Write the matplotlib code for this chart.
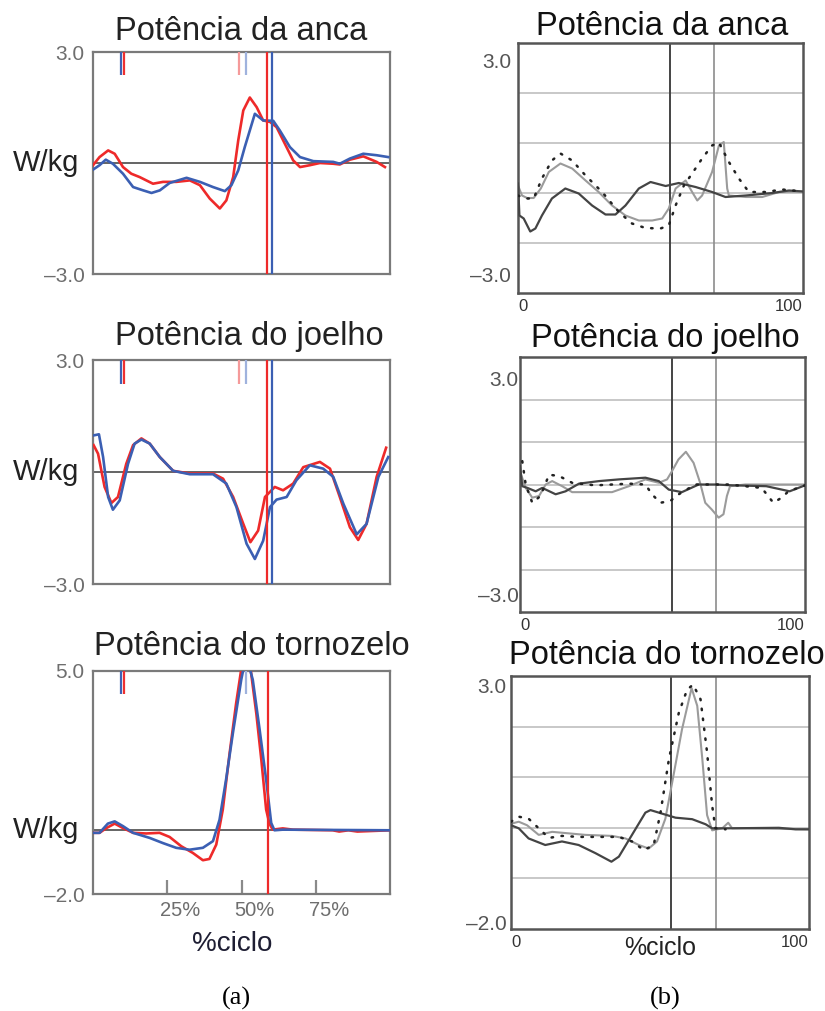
"""Gait power curves: (a) red/blue left-right averages, (b) grey reference traces."""

import matplotlib

matplotlib.use("Agg")

import matplotlib.pyplot as plt
from matplotlib.transforms import ScaledTranslation, blended_transform_factory

plt.rcParams["font.family"] = ["Liberation Sans", "DejaVu Sans"]

FIG_W, FIG_H = 825, 1011

# ---- panel (a): red / blue curves (x in % cycle, y in W/kg) ----
HIP_RED_X = [0, 2.2, 5.1, 7.3, 10.1, 12.9, 15.7, 20.2, 23.6, 28.1, 32.6, 36, 39.3, 42.7, 44.9, 47.2,
             48.9, 50.6, 52.8, 55.1, 57.3, 59.6, 61.8, 64.6, 67.4, 69.7, 73, 76.4, 80.9, 83.1, 86.5, 91, 95.5, 98.3]
HIP_RED_Y = [-0.06, 0.16, 0.34, 0.25, -0.11, -0.29, -0.38, -0.56, -0.51, -0.51, -0.47, -0.6, -0.96, -1.23,
             -1.01, -0.38, 0.61, 1.42, 1.77, 1.51, 1.15, 1.11, 0.97, 0.52, 0.07, -0.11, -0.06, 0.0, -0.02,
             -0.04, 0.09, 0.18, 0.03, -0.11]
HIP_BLUE_X = [0, 2.2, 4.3, 6.7, 10.1, 13.5, 16.9, 19.7, 22.5, 25.8, 31.5, 36, 40.4, 44.4, 46.6, 48.9,
              51.1, 54.5, 57.3, 60.7, 62.9, 66.3, 69.7, 74.2, 80.9, 83.1, 86.5, 91, 95.5, 99.4]
HIP_BLUE_Y = [-0.18, -0.06, 0.09, -0.02, -0.29, -0.65, -0.74, -0.81, -0.74, -0.54, -0.4, -0.51, -0.65,
              -0.76, -0.6, -0.2, 0.43, 1.33, 1.15, 1.14, 0.88, 0.43, 0.16, 0.05, 0.03, -0.02, 0.12, 0.25,
              0.21, 0.16]

KNEE_RED_X = [0.2, 1.7, 3.9, 6.2, 8.4, 11.2, 13.5, 16.3, 19.1, 22.5, 27, 32.6, 40.4, 43.8, 47.2, 50.6,
              53.0, 55.6, 57.9, 61.2, 64, 67.4, 70.8, 76.4, 79.8, 83.1, 86.5, 89.3, 92.1, 95.5, 98.7]
KNEE_RED_Y = [0.72, 0.49, -0.4, -0.83, -0.67, 0.22, 0.72, 0.9, 0.76, 0.4, 0.03, -0.04, -0.04, -0.18,
              -0.67, -1.39, -1.88, -1.57, -0.67, -0.4, -0.49, -0.31, 0.13, 0.27, 0.09, -0.67, -1.48,
              -1.82, -1.39, -0.13, 0.65]
KNEE_BLUE_X = [0.2, 2, 3.4, 5.1, 6.7, 9, 11.8, 14, 16.3, 19.1, 22.5, 27, 32.6, 40.4, 44.9, 48.3, 51.7,
               54.5, 57.3, 59.6, 61.8, 65.2, 68.5, 73, 77.5, 80.9, 84.3, 88.8, 92.1, 96.1, 99.4]
KNEE_BLUE_Y = [0.98, 1.01, 0.4, -0.67, -1.01, -0.76, 0.22, 0.76, 0.87, 0.76, 0.4, 0.03, -0.06, -0.06,
               -0.31, -0.94, -1.92, -2.33, -1.84, -0.94, -0.74, -0.67, -0.22, 0.18, 0.09, -0.13, -0.85,
               -1.67, -1.39, -0.13, 0.4]

ANKLE_RED_X = [0, 2.2, 4.5, 7.3, 10.1, 13.5, 17.9, 22.4, 25.8, 29.7, 33.6, 37, 39.2, 41.5, 43.7, 46,
               48.2, 50.8, 52.6, 55, 56.7, 58.3, 59.4, 60.5, 63.9, 67.3, 80.7, 82.9, 86, 89, 100]
ANKLE_RED_Y = [-0.08, -0.08, 0.07, 0.21, 0.07, -0.08, -0.1, -0.08, -0.21, -0.5, -0.71, -0.94, -0.9,
               -0.45, 0.65, 2.42, 3.99, 5.6, 5.4, 3.66, 2.19, 0.65, 0.21, 0.02, 0.06, 0.02, 0.0, -0.04,
               0.0, -0.04, 0.0]
ANKLE_BLUE_X = [0, 2.2, 5, 7.3, 10.1, 13.5, 19.1, 23.5, 28, 32.5, 37, 40.4, 42.6, 44.8, 47.1, 49.9,
                51.6, 53.8, 56.1, 58.3, 60, 61.1, 63.9, 100]
ANKLE_BLUE_Y = [-0.08, -0.08, 0.21, 0.28, 0.13, -0.08, -0.24, -0.4, -0.55, -0.61, -0.55, -0.34, 0.33,
                1.59, 3.05, 4.72, 5.5, 4.72, 3.16, 1.59, 0.23, 0.0, 0.02, 0.0]

# toe-off (full) and event markers (short) for panel (a)
TOEOFF_RED = 58.6
TOEOFF_BLUE = 60.3
TOEOFF_ANKLE = 58.9
EVENTS_MAIN = [(9.4, "#3f63b5"), (10.4, "#ee3030"), (49.2, "#f59a9a"), (51.5, "#9fb2dd")]
EVENTS_ANKLE = [(9.4, "#3f63b5"), (10.4, "#ee3030"), (51.5, "#9fb2dd")]

# ---- panel (b): grey reference traces (y in grid units of the scanned chart) ----
RHIP_DARK_X = [0, 0.5, 2, 4.3, 6.1, 8.4, 11.9, 16.6, 21.3, 26, 30.7, 34.2, 37.7, 42.4, 46.5, 51.8, 56.4,
               62.3, 68.1, 72.8, 79.9, 89.2, 95.1, 100]
RHIP_DARK_Y = [0.19, -0.45, -0.51, -0.77, -0.71, -0.45, -0.11, 0.09, -0.01, -0.25, -0.43, -0.43, -0.25,
               0.09, 0.22, 0.14, 0.2, 0.12, 0.02, -0.08, -0.05, 0.0, 0.05, 0.03]
RHIP_GREY_X = [0, 1.4, 3.2, 5.5, 8, 10.8, 14.9, 19, 23.7, 28.3, 33, 37.7, 42.4, 47.1, 50.6, 52.9, 55.3,
               58.8, 61.1, 62.9, 64.6, 68.1, 70.5, 72.2, 73.4, 74, 79.9, 85.7, 91.6, 100]
RHIP_GREY_Y = [0.15, -0.05, -0.1, -0.1, 0.09, 0.42, 0.59, 0.49, 0.25, 0.02, -0.25, -0.45, -0.55, -0.55,
               -0.51, -0.31, 0.09, 0.25, 0.02, -0.15, -0.05, 0.42, 0.95, 1.02, 0.09, -0.05, -0.08, -0.08,
               0.02, 0.03]
RHIP_DOT_X = [0, 2.6, 5.5, 8.4, 11.9, 14.9, 19, 23.7, 29.5, 35.4, 40, 44.7, 50, 52.9, 55.3, 58.2, 61.1,
              64.6, 68.1, 70.5, 74, 77.5, 81, 86.9, 92.7, 100]
RHIP_DOT_Y = [-0.05, -0.11, -0.11, 0.29, 0.65, 0.79, 0.65, 0.35, 0.02, -0.38, -0.61, -0.7, -0.71, -0.65,
              -0.25, 0.15, 0.39, 0.69, 0.95, 1.01, 0.62, 0.29, 0.02, 0.02, 0.07, 0.03]

RKNEE_DARK_X = [0, 0.8, 2.6, 5.5, 7.8, 12.5, 16, 20.7, 27.7, 34.7, 44, 48.7, 52.2, 56.8, 62.7, 68.7,
                74.7, 86.4, 94.6, 100]
RKNEE_DARK_Y = [0.43, -0.04, -0.08, -0.16, -0.08, -0.23, -0.16, 0.02, 0.08, 0.12, 0.16, 0.08, -0.12,
                -0.18, 0.0, 0.0, -0.02, -0.04, -0.16, -0.02]
RKNEE_GREY_X = [0, 2, 4.3, 6.7, 9, 11.3, 14.8, 18.3, 32.3, 38.2, 44, 48.7, 51.6, 53.3, 55.6, 58.2, 60.9,
                63.2, 65, 67.3, 69.7, 71.4, 72.6, 73.7, 79, 100]
RKNEE_GREY_Y = [0.31, -0.08, -0.31, -0.27, 0.0, 0.08, -0.04, -0.18, -0.18, -0.04, 0.12, 0.04, 0.12, 0.31,
                0.59, 0.77, 0.51, 0.04, -0.43, -0.59, -0.78, -0.7, -0.27, -0.04, 0.0, 0.0]
RKNEE_DOT_X = [0.8, 2, 4.3, 7.2, 10.2, 13.7, 18.3, 26.5, 38.2, 44, 46.3, 49.2, 52.7, 55.7, 61.5, 73.2,
               84.8, 88.9, 91.8, 94.2, 100]
RKNEE_DOT_Y = [0.55, 0.0, -0.43, -0.27, 0.23, 0.2, 0.04, -0.02, 0.02, 0.0, -0.23, -0.43, -0.39, -0.23,
               0.0, 0.0, -0.08, -0.43, -0.31, -0.16, -0.02]

RANKLE_DARK_X = [0, 2.6, 5.9, 11.5, 17.1, 22.7, 28.3, 33.7, 36.2, 40.6, 45.1, 46.8, 50.7, 55.2, 60.8,
                 65.3, 67.5, 73.1, 89.9, 95.5, 100]
RANKLE_DARK_Y = [0.05, -0.01, -0.21, -0.34, -0.27, -0.34, -0.5, -0.67, -0.57, -0.14, 0.3, 0.35, 0.28,
                 0.2, 0.17, 0.07, -0.01, -0.01, 0.0, -0.03, -0.03]
RANKLE_GREY_X = [0, 2.6, 5.4, 9.3, 13.8, 19.4, 25, 33.9, 38.4, 42.9, 46.2, 49, 51.8, 54.1, 57.4, 60.6,
                 62.5, 64.2, 65.8, 67.5, 70.9, 72.9, 74.2, 78.7, 100]
RANKLE_GREY_Y = [0.08, 0.12, 0.05, -0.14, -0.08, -0.11, -0.14, -0.16, -0.21, -0.34, -0.41, -0.27, 0.18,
                 0.9, 1.95, 2.76, 2.41, 1.36, 0.25, -0.05, -0.01, 0.1, -0.01, -0.01, -0.03]
RANKLE_DOT_X = [0, 2.6, 5.9, 9.3, 12.7, 17.1, 22.7, 29.5, 36.2, 40.6, 44.6, 47.9, 50.2, 53, 56.3, 59.1,
                61.1, 63.6, 65.8, 67.5, 68.6, 72]
RANKLE_DOT_Y = [0.12, 0.22, 0.18, -0.01, -0.2, -0.16, -0.18, -0.18, -0.18, -0.27, -0.44, -0.34, 0.31,
                1.36, 2.27, 2.73, 2.83, 2.54, 1.49, 0.44, -0.01, -0.03]

RIGHT_VLINES = [(53.3, 68.9), (53.3, 68.8), (53.7, 68.8)]

TITLES = ["Potência da anca", "Potência do joelho", "Potência do tornozelo"]

RED = "#ee2a2a"
BLUE = "#3b5fb3"


def add_axes_px(fig, x0, y0, x1, y1):
    return fig.add_axes([x0 / FIG_W, 1 - y1 / FIG_H, (x1 - x0) / FIG_W, (y1 - y0) / FIG_H])


def style_left(ax, ymin, ymax, title, title_pad, title_x):
    ax.set_xlim(0, 100)
    ax.set_ylim(ymin, ymax)
    for sp in ax.spines.values():
        sp.set_color("#7a7a7a")
        sp.set_linewidth(1.6)
    ax.set_yticks([ymax, ymin])
    ax.set_yticklabels([f"{ymax:.1f}", f"–{abs(ymin):.1f}"], fontsize=15, color="#6e6e6e")
    ax.tick_params(axis="y", length=0, pad=6)
    ax.set_xticks([])
    ax.axhline(0, color="#3a3a3a", lw=1.1, zorder=1)
    trans = blended_transform_factory(ax.transAxes, ax.transData)
    ax.text(-0.045, 0, "W/kg", transform=trans, ha="right", va="center", fontsize=21, color="#222222")
    ax.set_title(title, fontsize=23.5, color="#222222", pad=title_pad, x=title_x)


def style_right(ax, ylim, tick_pos, tick_lab, vlines, title, title_pad, lab_pad, title_x):
    ax.set_xlim(0, 100)
    ax.set_ylim(*ylim)
    for sp in ax.spines.values():
        sp.set_color("#555555")
        sp.set_linewidth(1.8)
    lo, hi = int(round(ylim[0])), int(round(ylim[1]))
    for g in range(lo + 1, hi):
        ax.axhline(g, color="#c4c4c4", lw=1.3, zorder=0)
    ax.axvline(vlines[0], color="#444444", lw=1.4, zorder=1)
    ax.axvline(vlines[1], color="#8c8c8c", lw=1.2, zorder=1)
    ax.set_yticks(tick_pos)
    ax.set_yticklabels(tick_lab, fontsize=15, color="#555555")
    ax.tick_params(axis="y", length=0, pad=lab_pad)
    ax.set_xticks([0, 100])
    ax.set_xticklabels(["0", "100"], fontsize=12, color="#333333")
    ax.tick_params(axis="x", length=0, pad=4)
    labs = ax.get_xticklabels()
    labs[0].set_ha("left")
    labs[1].set_ha("right")
    ax.set_title(title, fontsize=23.5, color="#111111", pad=title_pad, x=title_x)


def plot_right(ax, dark, grey, dot):
    ax.plot(*grey, color="#9b9b9b", lw=1.5, zorder=2)
    ax.plot(*dark, color="#444444", lw=1.6, zorder=3)
    ax.plot(*dot, color="#222222", lw=1.8, linestyle=(0, (0.6, 3.4)), dash_capstyle="round", zorder=4)


fig = plt.figure(figsize=(FIG_W / 100, FIG_H / 100), dpi=100)

# panel (a)
left_boxes = [(93, 52, 390, 274), (93, 360, 390, 584), (93, 671, 390, 894)]
left_data = [
    (HIP_RED_X, HIP_RED_Y, HIP_BLUE_X, HIP_BLUE_Y, -3.0, 3.0, 9, 0.5),
    (KNEE_RED_X, KNEE_RED_Y, KNEE_BLUE_X, KNEE_BLUE_Y, -3.0, 3.0, 11, 0.527),
    (ANKLE_RED_X, ANKLE_RED_Y, ANKLE_BLUE_X, ANKLE_BLUE_Y, -2.0, 5.0, 11.5, 0.534),
]
for i, (box, (rx, ry, bx, by, ymin, ymax, tpad, tx)) in enumerate(zip(left_boxes, left_data)):
    ax = add_axes_px(fig, *box)
    style_left(ax, ymin, ymax, TITLES[i], tpad, tx)
    ax.plot(rx, ry, color=RED, lw=1.9, zorder=3)
    ax.plot(bx, by, color=BLUE, lw=1.9, zorder=4)
    span = ymax - ymin
    events = EVENTS_ANKLE if i == 2 else EVENTS_MAIN
    for xe, col in events:
        ax.vlines(xe, ymax - 0.105 * span, ymax, color=col, lw=1.6, zorder=5)
    if i < 2:
        ax.axvline(TOEOFF_RED, color=RED, lw=1.6, zorder=5)
        ax.axvline(TOEOFF_BLUE, color=BLUE, lw=1.6, zorder=5)
    else:
        ax.axvline(TOEOFF_ANKLE, color=RED, lw=1.6, zorder=5)
        ax.set_xticks([25, 50, 75])
        ax.set_xticklabels(["25%", "50%", "75%"], fontsize=14.5, color="#6e6e6e")
        ax.tick_params(axis="x", direction="in", length=10, width=1.6, color="#8a8a8a", pad=5)
        for lab in ax.get_xticklabels():
            lab.set_transform(lab.get_transform() + ScaledTranslation(13 / 100, 0, fig.dpi_scale_trans))
        ax.set_xlabel("%ciclo", fontsize=20, color="#1e1e33", labelpad=10)
        ax.xaxis.set_label_coords(0.468, -0.165)

# panel (b)
right_boxes = [(518, 43, 803, 293), (520, 357, 805, 612), (511, 676, 809, 929)]
right_setup = [
    ((-2.0, 3.0), [2.64, -1.64], ["3.0", "–3.0"], 6, 5, 0.505),
    ((-3.0, 3.0), [2.5, -2.58], ["3.0", "–3.0"], 7, 1, 0.51),
    ((-2.0, 3.0), [2.82, -1.88], ["3.0", "–2.0"], 9, 3, 0.523),
]
right_data = [
    ((RHIP_DARK_X, RHIP_DARK_Y), (RHIP_GREY_X, RHIP_GREY_Y), (RHIP_DOT_X, RHIP_DOT_Y)),
    ((RKNEE_DARK_X, RKNEE_DARK_Y), (RKNEE_GREY_X, RKNEE_GREY_Y), (RKNEE_DOT_X, RKNEE_DOT_Y)),
    ((RANKLE_DARK_X, RANKLE_DARK_Y), (RANKLE_GREY_X, RANKLE_GREY_Y), (RANKLE_DOT_X, RANKLE_DOT_Y)),
]
for i, (box, (ylim, tp, tl, tpad, lpad, tx), curves) in enumerate(zip(right_boxes, right_setup, right_data)):
    ax = add_axes_px(fig, *box)
    style_right(ax, ylim, tp, tl, RIGHT_VLINES[i], TITLES[i], tpad, lpad, tx)
    plot_right(ax, *curves)
    if i == 2:
        ax.set_xlabel("%ciclo", fontsize=18, color="#222222", labelpad=-10)

fig.text(236 / FIG_W, 1 - 998 / FIG_H, "(a)", ha="center", va="center", fontsize=19,
         family=["Liberation Serif", "DejaVu Serif"])
fig.text(665 / FIG_W, 1 - 998 / FIG_H, "(b)", ha="center", va="center", fontsize=19,
         family=["Liberation Serif", "DejaVu Serif"])

fig.savefig("out.png", dpi=100)
